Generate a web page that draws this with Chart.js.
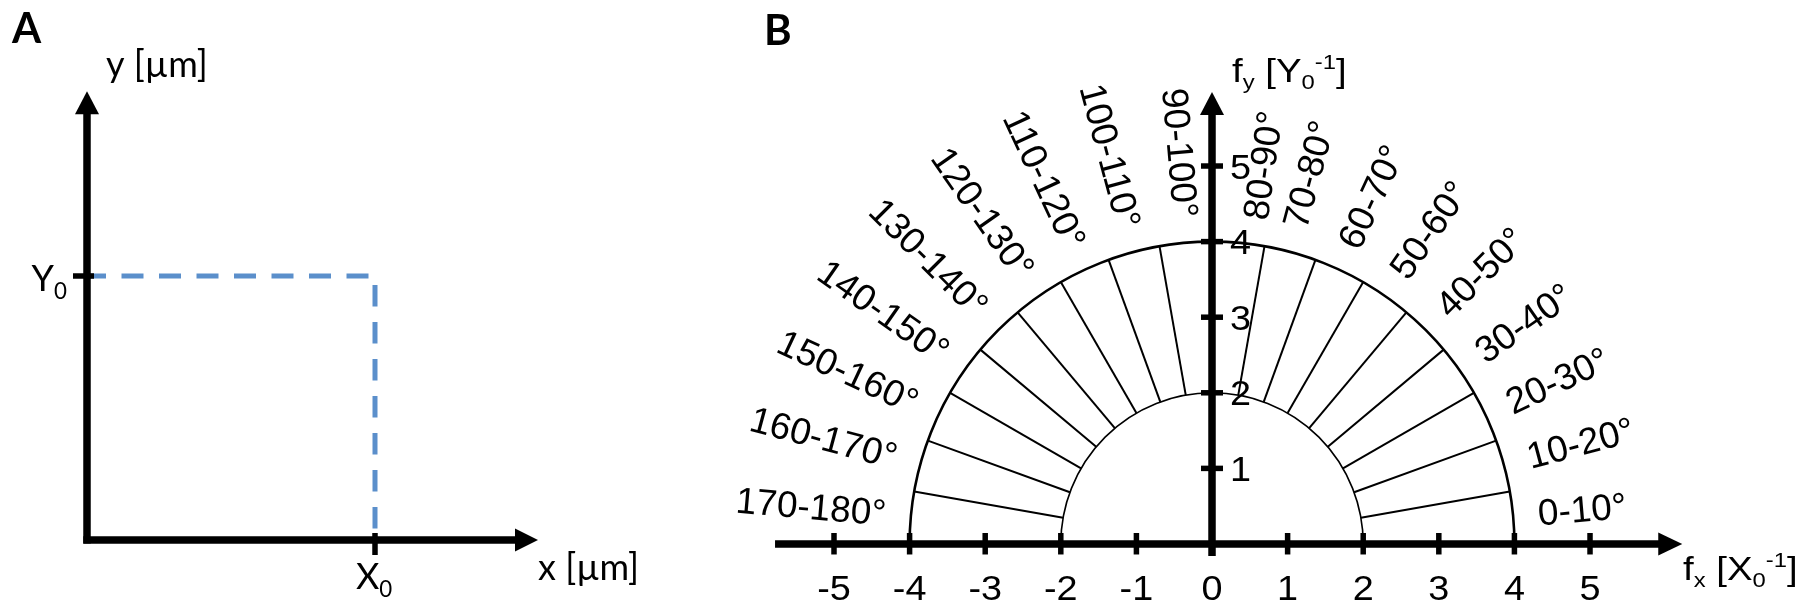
<!DOCTYPE html>
<html><head><meta charset="utf-8">
<script src="https://cdn.jsdelivr.net/npm/chart.js@4.4.1/dist/chart.umd.min.js"></script>
<style>
html,body{margin:0;padding:0;background:#fff;}
#wrap{position:relative;width:1804px;height:602px;overflow:hidden;background:#fff;}
#cA{position:absolute;left:0;top:0;}
#cB{position:absolute;left:700px;top:0;}
</style></head><body>
<div id="wrap"><canvas id="cA" width="700" height="602"></canvas><canvas id="cB" width="1104" height="602"></canvas></div>
<script>
// ---------- Panel A data ----------
const panelALetter = "A";
const X0 = 1;
const Y0 = 1;
const xTicksA = [X0];
const yTicksA = [Y0];
const xTickLabelsA = [[["X", ""], ["0", "sub"]]];
const yTickLabelsA = [[["Y", ""], ["0", "sub"]]];
const xTitleA = "x [µm]";
const yTitleA = "y [µm]";

// ---------- Panel B data ----------
const panelBLetter = "B";
const xTicksB = [-5, -4, -3, -2, -1, 0, 1, 2, 3, 4, 5];
const xTickLabelsB = ["-5", "-4", "-3", "-2", "-1", "0", "1", "2", "3", "4", "5"];
const yTicksB = [1, 2, 3, 4, 5];
const yTickLabelsB = ["1", "2", "3", "4", "5"];
const ringRadii = [2, 4];
const sectorEdgesDeg = [0, 10, 20, 30, 40, 50, 60, 70, 80, 90, 100, 110, 120, 130, 140, 150, 160, 170, 180];
const sectorLabels = ["0-10°", "10-20°", "20-30°", "30-40°", "40-50°", "50-60°", "60-70°", "70-80°", "80-90°",
  "90-100°", "100-110°", "110-120°", "120-130°", "130-140°", "140-150°", "150-160°", "160-170°", "170-180°"];
const xTitleB = [["f", ""], ["x", "sub"], [" [X", ""], ["0", "sub"], ["-1", "sup"], ["]", ""]];
const yTitleB = [["f", ""], ["y", "sub"], [" [Y", ""], ["0", "sub"], ["-1", "sup"], ["]", ""]];

const FONT_A = '"Lato", "Open Sans", sans-serif';
const FONT_B = '"Liberation Sans", Arial, sans-serif';
const FS_SECTOR = 37;
const FS_TICK = 35, SX_TICK = 1.08;
const FS_TITLE = 34, SX_TITLE = 1.13;
const LABEL_NUDGE_DEG = { "80-90°": -3 };

function rich(ctx, parts, x, y, size, family, sx) {
  ctx.save();
  ctx.translate(x, y);
  ctx.scale(sx, 1);
  ctx.textAlign = 'left';
  ctx.textBaseline = 'alphabetic';
  let cx = 0;
  parts.forEach(p => {
    const s = p[1] ? size * 0.62 : size;
    ctx.font = s + 'px ' + family;
    let dy = 0;
    if (p[1] === 'sub') dy = size * 0.22;
    if (p[1] === 'sup') dy = -size * 0.38;
    ctx.fillText(p[0], cx, dy);
    cx += ctx.measureText(p[0]).width;
  });
  ctx.restore();
}
function richWidth(ctx, parts, size, family) {
  let w = 0;
  parts.forEach(p => {
    const s = p[1] ? size * 0.62 : size;
    ctx.font = s + 'px ' + family;
    w += ctx.measureText(p[0]).width;
  });
  return w;
}

function arrowLine(ctx, x1, y1, x2, y2, lw, headLen, headHalf) {
  const ang = Math.atan2(y2 - y1, x2 - x1);
  const bx = x2 - headLen * Math.cos(ang), by = y2 - headLen * Math.sin(ang);
  ctx.lineWidth = lw;
  ctx.lineCap = 'butt';
  ctx.beginPath(); ctx.moveTo(x1, y1); ctx.lineTo(bx + Math.cos(ang), by + Math.sin(ang)); ctx.stroke();
  ctx.beginPath();
  ctx.moveTo(x2, y2);
  ctx.lineTo(bx - headHalf * Math.sin(ang), by + headHalf * Math.cos(ang));
  ctx.lineTo(bx + headHalf * Math.sin(ang), by - headHalf * Math.cos(ang));
  ctx.closePath(); ctx.fill();
}

// ---------- Panel A chart ----------
const axesAPlugin = {
  id: 'axesA',
  afterDatasetsDraw(chart) {
    const ctx = chart.ctx, xs = chart.scales.x, ys = chart.scales.y;
    const ox = xs.getPixelForValue(0), oy = ys.getPixelForValue(0);
    ctx.save();
    ctx.fillStyle = '#000'; ctx.strokeStyle = '#000';
    arrowLine(ctx, ox, oy + 3.5, ox, ys.getPixelForValue(1.70), 7.5, 23, 12);
    arrowLine(ctx, ox - 3.7, oy, xs.getPixelForValue(1.566), oy, 7.5, 23, 11.5);
    ctx.lineWidth = 5.5;
    xTicksA.forEach((v, i) => {
      const p = xs.getPixelForValue(v);
      ctx.beginPath(); ctx.moveTo(p, oy - 7); ctx.lineTo(p, oy + 15); ctx.stroke();
      rich(ctx, xTickLabelsA[i], p - 19, oy + 49, 36, FONT_A, 1);
    });
    yTicksA.forEach((v, i) => {
      const p = ys.getPixelForValue(v);
      ctx.beginPath(); ctx.moveTo(ox - 14, p); ctx.lineTo(ox + 7, p); ctx.stroke();
      const w = richWidth(ctx, yTickLabelsA[i], 36, FONT_A);
      rich(ctx, yTickLabelsA[i], ox - 20 - w, p + 15, 36, FONT_A, 1);
    });
    ctx.font = '36px ' + FONT_A; ctx.textAlign = 'left'; ctx.textBaseline = 'alphabetic';
    ctx.fillText(yTitleA, 106, 77);
    ctx.fillText(xTitleA, 538, 580);
    ctx.font = 'bold 42px ' + FONT_A;
    ctx.fillText(panelALetter, 12, 43);
    ctx.restore();
  }
};

new Chart(document.getElementById('cA'), {
  type: 'scatter',
  data: {
    datasets: [
      { data: [{ x: 0, y: Y0 }, { x: X0, y: Y0 }], showLine: true, borderColor: '#5b8fcb', borderWidth: 5,
        borderDash: [22, 15.5], borderDashOffset: 3, pointRadius: 0, borderCapStyle: 'butt' },
      { data: [{ x: X0, y: Y0 }, { x: X0, y: 0 }], showLine: true, borderColor: '#5b8fcb', borderWidth: 5,
        borderDash: [21.5, 15.5], borderDashOffset: 28, pointRadius: 0, borderCapStyle: 'butt' }
    ]
  },
  options: {
    responsive: false, animation: false, events: [],
    layout: { padding: { left: 0.6, right: 123.4, top: 64.8, bottom: 9.2 } },
    scales: {
      x: { type: 'linear', min: -0.3, max: 1.7, display: false },
      y: { type: 'linear', min: -0.2, max: 1.8, display: false }
    },
    plugins: { legend: { display: false }, tooltip: { enabled: false } }
  },
  plugins: [axesAPlugin]
});

// ---------- Panel B chart ----------
const rad = d => d * Math.PI / 180;
const spokeSets = sectorEdgesDeg.slice(1, -1).map(d => ({
  data: ringRadii.map(r => ({ x: r * Math.cos(rad(d)), y: r * Math.sin(rad(d)) })),
  showLine: true, borderColor: '#000', borderWidth: 2, pointRadius: 0
}));

function stretchedText(ctx, txt, x, y, align, sx) {
  ctx.save();
  ctx.translate(x, y);
  ctx.scale(sx, 1);
  ctx.textAlign = align;
  ctx.fillText(txt, 0, 0);
  ctx.restore();
}

const polarBPlugin = {
  id: 'polarB',
  beforeDatasetsDraw(chart) {
    const ctx = chart.ctx, xs = chart.scales.x, ys = chart.scales.y;
    const ox = xs.getPixelForValue(0), oy = ys.getPixelForValue(0);
    ctx.save();
    ctx.strokeStyle = '#000';
    ringRadii.forEach((r, i) => {
      const rx = xs.getPixelForValue(r) - ox, ry = oy - ys.getPixelForValue(r);
      ctx.lineWidth = i === 0 ? 1.6 : 2.6;
      ctx.beginPath(); ctx.ellipse(ox, oy, rx, ry, 0, Math.PI, 2 * Math.PI); ctx.stroke();
    });
    ctx.restore();
  },
  afterDatasetsDraw(chart) {
    const ctx = chart.ctx, xs = chart.scales.x, ys = chart.scales.y;
    const ox = xs.getPixelForValue(0), oy = ys.getPixelForValue(0);
    ctx.save();
    ctx.fillStyle = '#000'; ctx.strokeStyle = '#000';
    arrowLine(ctx, xs.getPixelForValue(-5.78), oy, xs.getPixelForValue(6.22), oy, 7.5, 24, 11.5);
    arrowLine(ctx, ox, ys.getPixelForValue(-0.16), ox, ys.getPixelForValue(5.98), 7.5, 23, 12);
    ctx.lineWidth = 5.5;
    xTicksB.forEach(v => {
      const p = xs.getPixelForValue(v);
      ctx.beginPath(); ctx.moveTo(p, oy - 11); ctx.lineTo(p, oy + 10.5); ctx.stroke();
    });
    yTicksB.forEach(v => {
      const p = ys.getPixelForValue(v);
      ctx.beginPath(); ctx.moveTo(ox - 11, p); ctx.lineTo(ox + 11, p); ctx.stroke();
    });
    ctx.font = FS_TICK + 'px ' + FONT_B;
    ctx.textBaseline = 'alphabetic';
    xTicksB.forEach((v, i) => stretchedText(ctx, xTickLabelsB[i], xs.getPixelForValue(v), oy + 56, 'center', SX_TICK));
    yTicksB.forEach((v, i) => stretchedText(ctx, yTickLabelsB[i], ox + 18, ys.getPixelForValue(v) + 12.5, 'left', SX_TICK));
    // sector labels, radial
    const R = 4.33;
    sectorLabels.forEach((lab, i) => {
      const midDeg = (sectorEdgesDeg[i] + sectorEdgesDeg[i + 1]) / 2 + (LABEL_NUDGE_DEG[lab] || 0);
      const mid = rad(midDeg);
      const px = xs.getPixelForValue(R * Math.cos(mid));
      const py = ys.getPixelForValue(R * Math.sin(mid));
      ctx.save();
      ctx.translate(px, py);
      ctx.font = FS_SECTOR + 'px ' + FONT_B;
      ctx.textBaseline = 'middle';
      if (midDeg < 90) { ctx.rotate(-mid); ctx.textAlign = 'left'; }
      else { ctx.rotate(Math.PI - mid); ctx.textAlign = 'right'; }
      ctx.fillText(lab, 0, 0);
      ctx.restore();
    });
    rich(ctx, xTitleB, 983, 580, FS_TITLE, FONT_B, SX_TITLE);
    rich(ctx, yTitleB, 532, 82, FS_TITLE, FONT_B, SX_TITLE);
    ctx.font = 'bold 42px ' + FONT_A;
    ctx.textAlign = 'left'; ctx.textBaseline = 'alphabetic';
    ctx.fillText(panelBLetter, 64, 45);
    ctx.restore();
  }
};

new Chart(document.getElementById('cB'), {
  type: 'scatter',
  data: { datasets: spokeSets },
  options: {
    responsive: false, animation: false, events: [],
    layout: { padding: { left: 58.4, right: 115.7, top: 75.3, bottom: 5.1 } },
    scales: {
      x: { type: 'linear', min: -6, max: 6.3, display: false },
      y: { type: 'linear', min: -0.7, max: 6.2, display: false }
    },
    plugins: { legend: { display: false }, tooltip: { enabled: false } }
  },
  plugins: [polarBPlugin]
});
</script>
</body></html>
